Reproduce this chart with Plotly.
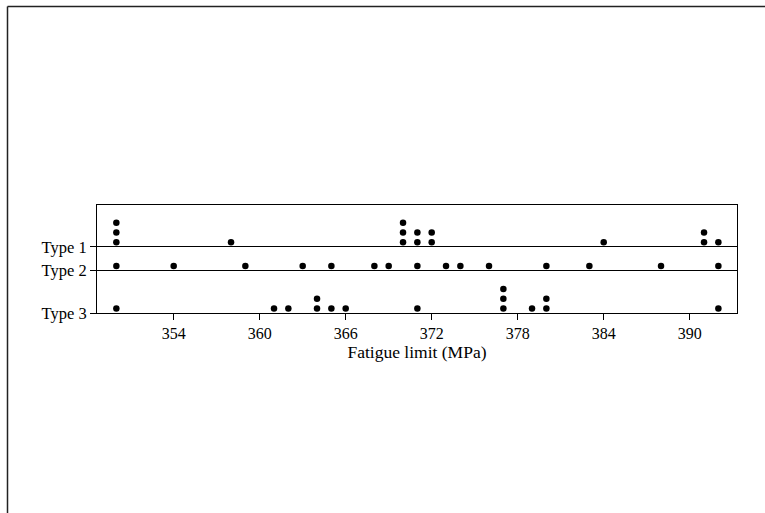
import plotly.graph_objects as go

# Data (fatigue limit in MPa), one entry per observation
type1 = [350, 350, 350, 358, 370, 370, 370, 371, 371, 372, 372, 384, 391, 391, 392]
type2 = [350, 354, 359, 363, 365, 368, 369, 371, 373, 374, 376, 380, 383, 388, 392]
type3 = [350, 361, 362, 364, 364, 365, 366, 371, 377, 377, 377, 379, 380, 380, 392]

categories = ["Type 1", "Type 2", "Type 3"]
series = [type1, type2, type3]
x_ticks = [354, 360, 366, 372, 378, 384, 390]

# baseline level of each row (axis units ~ pixels)
row_base = {"Type 1": 66.5, "Type 2": 42.6, "Type 3": 0.0}
dot_offset = 4.6
dot_step = 9.8

fig = go.Figure()
for cat, vals in zip(categories, series):
    seen = {}
    xs, ys = [], []
    for v in vals:
        k = seen.get(v, 0)
        seen[v] = k + 1
        xs.append(v)
        ys.append(row_base[cat] + dot_offset + k * dot_step)
    fig.add_trace(go.Scatter(x=xs, y=ys, mode="markers", name=cat,
                             marker=dict(color="black", size=6.5),
                             showlegend=False, hoverinfo="x"))

fam = "Liberation Serif, Times New Roman, serif"
xfont = dict(family=fam, size=16, color="black")
yfont = dict(family=fam, size=16.5, color="black")
tfont = dict(family=fam, size=17.5, color="black")

fig.update_layout(
    width=765, height=513,
    margin=dict(l=97, r=28, t=205, b=200),
    paper_bgcolor="white", plot_bgcolor="white",
    font=xfont,
    xaxis=dict(range=[348.65, 393.3], tickvals=x_ticks, ticks="outside", ticklen=6,
               tickcolor="black", showline=True, linecolor="black", linewidth=1,
               mirror=True, showgrid=False, zeroline=False,
               title=dict(text="Fatigue limit (MPa)", standoff=4, font=tfont),
               tickfont=xfont),
    yaxis=dict(range=[0, 108.5], tickvals=[row_base[c] for c in categories],
               ticktext=categories, ticks="outside", ticklen=6, tickcolor="black",
               showline=True, linecolor="black", linewidth=1, mirror=True,
               showgrid=True, gridcolor="black", gridwidth=1, zeroline=False,
               tickfont=yfont),
)

# outer page frame (top and left edges)
fig.add_shape(type="line", xref="paper", yref="paper",
              x0=(7.5 - 97) / 640, x1=(766 - 97) / 640,
              y0=(313 - 6.5) / 108, y1=(313 - 6.5) / 108,
              line=dict(color="#222222", width=1.5))
fig.add_shape(type="line", xref="paper", yref="paper",
              x0=(7.5 - 97) / 640, x1=(7.5 - 97) / 640,
              y0=(313 - 6.5) / 108, y1=(313 - 514) / 108,
              line=dict(color="#222222", width=1.5))

fig.write_html("out.html", config={"displayModeBar": False},
               post_script="document.body.style.margin='0';document.body.style.overflow='hidden';")
